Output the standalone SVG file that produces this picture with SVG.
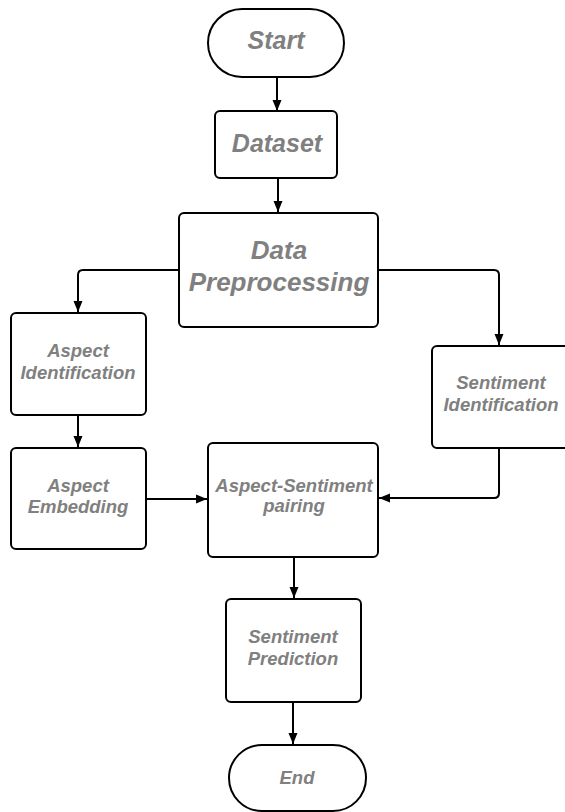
<svg xmlns="http://www.w3.org/2000/svg" width="565" height="812" viewBox="0 0 565 812">
<style>
.box{fill:#fff;stroke:#000;stroke-width:2}
.t{font-family:"Liberation Sans",Arial,sans-serif;font-weight:bold;font-style:italic;fill:#808080;text-anchor:middle}
.big{font-size:25px}
.huge{font-size:26px}
.sm{font-size:18.5px}
.c{fill:none;stroke:#000;stroke-width:2}
</style>
<defs>
<marker id="ah" markerUnits="userSpaceOnUse" markerWidth="12" markerHeight="12" viewBox="0 0 12 12" refX="11" refY="6" orient="auto">
<path d="M0,1.5 L11,6 L0,10.5 Z" fill="#000"/>
</marker>
</defs>
<rect width="565" height="812" fill="#fff"/>
<g id="connectors">
<path class="c" d="M277,77 V111" marker-end="url(#ah)"/>
<path class="c" d="M278,178 V212" marker-end="url(#ah)"/>
<path class="c" d="M179,270 H83 Q78,270 78,275 V312" marker-end="url(#ah)"/>
<path class="c" d="M378,270 H494 Q499,270 499,275 V345" marker-end="url(#ah)"/>
<path class="c" d="M78,415 V447" marker-end="url(#ah)"/>
<path class="c" d="M146,499 H207" marker-end="url(#ah)"/>
<path class="c" d="M499,448 V493 Q499,498 494,498 H379" marker-end="url(#ah)"/>
<path class="c" d="M294,557 V598" marker-end="url(#ah)"/>
<path class="c" d="M293,702 V744" marker-end="url(#ah)"/>
</g>
<g id="start">
<rect class="box" x="208" y="9" width="136" height="68" rx="34" ry="34"/>
<text class="t big" x="276" y="49">Start</text>
</g>
<g id="dataset">
<rect class="box" x="215" y="111" width="122" height="67" rx="5"/>
<text class="t big" x="277" y="152">Dataset</text>
</g>
<g id="preprocessing">
<rect class="box" x="179" y="213" width="199" height="114" rx="5"/>
<text class="t huge" x="279" y="259">Data</text>
<text class="t huge" x="279" y="291">Preprocessing</text>
</g>
<g id="aspect-identification">
<rect class="box" x="11" y="313" width="135" height="102" rx="5"/>
<text class="t sm" x="78" y="357">Aspect</text>
<text class="t sm" x="78" y="379">Identification</text>
</g>
<g id="sentiment-identification">
<rect class="box" x="432" y="346" width="148" height="102" rx="5"/>
<text class="t sm" x="501" y="389">Sentiment</text>
<text class="t sm" x="501" y="411">Identification</text>
</g>
<g id="aspect-embedding">
<rect class="box" x="11" y="448" width="135" height="101" rx="5"/>
<text class="t sm" x="78" y="492">Aspect</text>
<text class="t sm" x="78" y="513">Embedding</text>
</g>
<g id="pairing">
<rect class="box" x="208" y="443" width="170" height="114" rx="5"/>
<text class="t sm" x="294" y="492">Aspect-Sentiment</text>
<text class="t sm" x="294" y="512">pairing</text>
</g>
<g id="prediction">
<rect class="box" x="226" y="599" width="135" height="103" rx="5"/>
<text class="t sm" x="293" y="643">Sentiment</text>
<text class="t sm" x="293" y="665">Prediction</text>
</g>
<g id="end">
<rect class="box" x="229" y="745" width="137" height="66" rx="33" ry="33"/>
<text class="t sm" x="297" y="784">End</text>
</g>
</svg>
